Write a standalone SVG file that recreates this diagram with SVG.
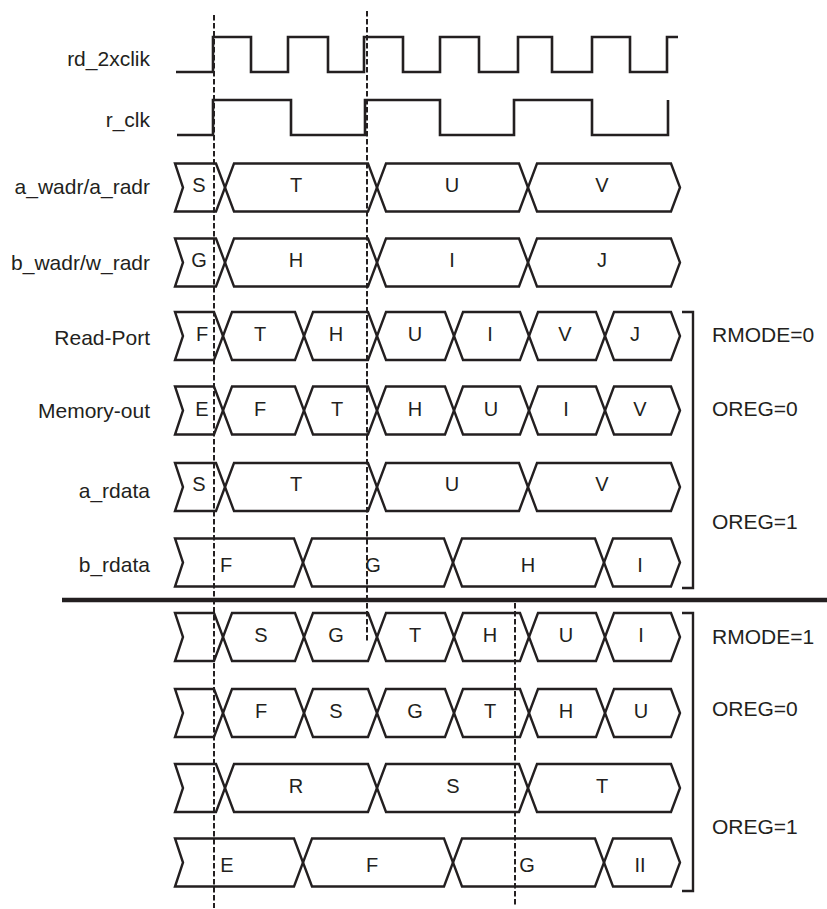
<svg xmlns="http://www.w3.org/2000/svg" xmlns:xlink="http://www.w3.org/1999/xlink" width="827" height="909" viewBox="0 0 827 909">
<style>
.clk{fill:none;stroke:#231f20;stroke-width:2.6;stroke-linejoin:miter}
.bus polygon{fill:none;stroke:#231f20;stroke-width:2.4;stroke-linejoin:miter}
.dash{stroke:#231f20;stroke-width:2;stroke-dasharray:5.5 2.5;fill:none}
.brk{fill:none;stroke:#231f20;stroke-width:2.4}
.sig{font-family:"Liberation Sans",Arial,sans-serif;font-size:21px;fill:#231f20;text-anchor:end}
.val{font-family:"Liberation Sans",Arial,sans-serif;font-size:20px;fill:#231f20;text-anchor:middle}
.mode{font-family:"Liberation Sans",Arial,sans-serif;font-size:21px;fill:#231f20;text-anchor:start}
</style>
<defs>
<g id="pat4" class="bus">
<polygon points="175,0 216,0 225,24 216,48 175,48 183,24"/>
<polygon points="234,0 368,0 377,24 368,48 234,48 225,24"/>
<polygon points="386,0 519,0 528,24 519,48 386,48 377,24"/>
<polygon points="537,0 671,0 680,24 671,48 537,48 528,24"/>
</g>
<g id="pat7" class="bus">
<polygon points="175,0 214,0 223,24 214,48 175,48 183,24"/>
<polygon points="232,0 295,0 304,24 295,48 232,48 223,24"/>
<polygon points="313,0 368,0 377,24 368,48 313,48 304,24"/>
<polygon points="386,0 445,0 454,24 445,48 386,48 377,24"/>
<polygon points="463,0 520,0 529,24 520,48 463,48 454,24"/>
<polygon points="538,0 596,0 605,24 596,48 538,48 529,24"/>
<polygon points="614,0 671,0 680,24 671,48 614,48 605,24"/>
</g>
<g id="pat4b" class="bus">
<polygon points="175,0 294,0 303,24 294,48 175,48 183,24"/>
<polygon points="312,0 444,0 453,24 444,48 312,48 303,24"/>
<polygon points="462,0 595,0 604,24 595,48 462,48 453,24"/>
<polygon points="613,0 671,0 680,24 671,48 613,48 604,24"/>
</g>
</defs>

<g id="rd_2xclik">
<text class="sig" x="150" y="66">rd_2xclik</text>
<path class="clk" d="M176,72 H213 V37 H251 V72 H288 V37 H328 V72 H364 V37 H403 V72 H440 V37 H479 V72 H518 V37 H552 V72 H592 V37 H630 V72 H667 V37 H678"/>
</g>
<g id="r_clk">
<text class="sig" x="150" y="127">r_clk</text>
<path class="clk" d="M177,135 H213 V100 H291 V135 H365 V100 H440 V135 H514 V100 H592 V135 H668 V100"/>
</g>

<g id="a_wadr">
<text class="sig" x="150" y="194">a_wadr/a_radr</text>
<use xlink:href="#pat4" href="#pat4" y="163.5"/>
<text class="val" x="199" y="192">S</text>
<text class="val" x="296" y="192">T</text>
<text class="val" x="452" y="192">U</text>
<text class="val" x="602" y="192">V</text>
</g>
<g id="b_wadr">
<text class="sig" x="150" y="270">b_wadr/w_radr</text>
<use xlink:href="#pat4" href="#pat4" y="238.5"/>
<text class="val" x="199" y="267">G</text>
<text class="val" x="296" y="267">H</text>
<text class="val" x="452" y="267">I</text>
<text class="val" x="602" y="267">J</text>
</g>
<g id="read_port">
<text class="sig" x="150" y="345">Read-Port</text>
<use xlink:href="#pat7" href="#pat7" y="312"/>
<text class="val" x="202" y="341">F</text>
<text class="val" x="260" y="341">T</text>
<text class="val" x="336" y="341">H</text>
<text class="val" x="415" y="341">U</text>
<text class="val" x="490" y="341">I</text>
<text class="val" x="565" y="341">V</text>
<text class="val" x="635" y="341">J</text>
</g>
<g id="memory_out">
<text class="sig" x="150" y="418">Memory-out</text>
<use xlink:href="#pat7" href="#pat7" y="386.5"/>
<text class="val" x="202" y="415.5">E</text>
<text class="val" x="260" y="415.5">F</text>
<text class="val" x="337" y="415.5">T</text>
<text class="val" x="415" y="415.5">H</text>
<text class="val" x="491" y="415.5">U</text>
<text class="val" x="566" y="415.5">I</text>
<text class="val" x="640" y="415.5">V</text>
</g>
<g id="a_rdata">
<text class="sig" x="150" y="498">a_rdata</text>
<use xlink:href="#pat4" href="#pat4" y="463"/>
<text class="val" x="199" y="491">S</text>
<text class="val" x="296" y="491">T</text>
<text class="val" x="452" y="491">U</text>
<text class="val" x="602" y="491">V</text>
</g>
<g id="b_rdata">
<text class="sig" x="150" y="572">b_rdata</text>
<use xlink:href="#pat4b" href="#pat4b" y="538.5"/>
<text class="val" x="226" y="572">F</text>
<text class="val" x="373" y="572">G</text>
<text class="val" x="528" y="572">H</text>
<text class="val" x="640" y="572">I</text>
</g>

<g id="rmode1_row1">
<use xlink:href="#pat7" href="#pat7" y="613"/>
<text class="val" x="261" y="642">S</text>
<text class="val" x="336" y="642">G</text>
<text class="val" x="415" y="642">T</text>
<text class="val" x="490" y="642">H</text>
<text class="val" x="566" y="642">U</text>
<text class="val" x="641" y="642">I</text>
</g>
<g id="rmode1_row2">
<use xlink:href="#pat7" href="#pat7" y="689"/>
<text class="val" x="261" y="718">F</text>
<text class="val" x="336" y="718">S</text>
<text class="val" x="415" y="718">G</text>
<text class="val" x="490" y="718">T</text>
<text class="val" x="566" y="718">H</text>
<text class="val" x="641" y="718">U</text>
</g>
<g id="rmode1_row3">
<use xlink:href="#pat4" href="#pat4" y="764"/>
<text class="val" x="296" y="792.5">R</text>
<text class="val" x="453" y="792.5">S</text>
<text class="val" x="602" y="792.5">T</text>
</g>
<g id="rmode1_row4">
<use xlink:href="#pat4b" href="#pat4b" y="838.5"/>
<text class="val" x="227" y="872">E</text>
<text class="val" x="372" y="872">F</text>
<text class="val" x="527" y="872">G</text>
<text class="val" x="640" y="872">II</text>
</g>

<g id="rmode0_bracket">
<path class="brk" d="M682,312 H693 V588 H682"/>
<text class="mode" x="712" y="342">RMODE=0</text>
<text class="mode" x="712" y="416">OREG=0</text>
<text class="mode" x="712" y="529">OREG=1</text>
</g>
<g id="rmode1_bracket">
<path class="brk" d="M682,613 H693 V891 H682"/>
<text class="mode" x="712" y="644">RMODE=1</text>
<text class="mode" x="712" y="716">OREG=0</text>
<text class="mode" x="712" y="834">OREG=1</text>
</g>

<g id="separator">
<path d="M62,600 H827" stroke="#231f20" stroke-width="4.5" fill="none"/>
</g>

<g id="connectors">
<path class="dash" d="M214,15 V908"/>
<path class="dash" d="M367,11 V642"/>
<path class="dash" d="M515,603 V905"/>
</g>
</svg>
